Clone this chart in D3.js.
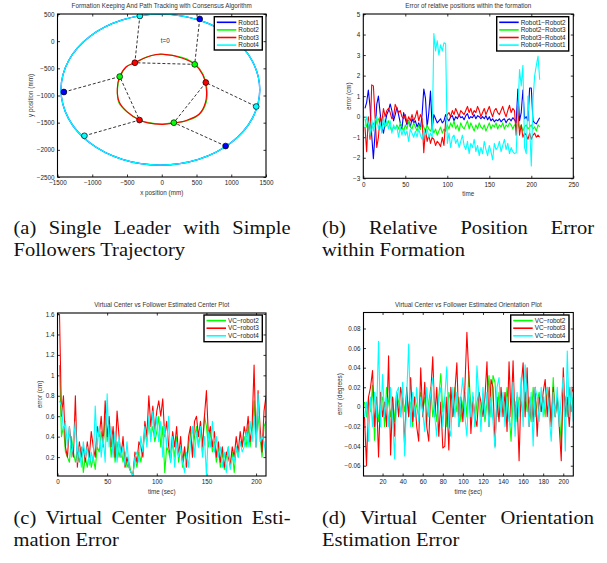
<!DOCTYPE html>
<html>
<head>
<meta charset="utf-8">
<script src="https://cdn.jsdelivr.net/npm/d3@7/dist/d3.min.js"></script>
<style>
  body { margin: 0; background: #fff; }
  svg { display: block; }
  .ax text { font-family: "Liberation Sans", Arial, sans-serif; font-size: 6.3px; fill: #222; }
  .ax .tick line { stroke: #000; stroke-width: 0.8; }
  .lbl { font-family: "Liberation Sans", Arial, sans-serif; font-size: 6.3px; fill: #333; }
  .leg text { font-family: "Liberation Sans", Arial, sans-serif; font-size: 6.4px; fill: #222; }
  .cap text { font-family: "Liberation Serif", "Times New Roman", serif; font-size: 19px; fill: #111; }
</style>
</head>
<body>
<svg id="fig" width="607" height="563"></svg>
<script>
// ---- (a) trajectories, mm ----
const outerPath = [
  [1410, -893], [1301, -361], [991, 90], [527, 391], [-20, 497], [-567, 391],
  [-1031, 90], [-1341, -361], [-1450, -893], [-1341, -1425], [-1031, -1876],
  [-567, -2177], [-20, -2283], [527, -2177], [991, -1876], [1301, -1425]
];
const innerRed = [
  [5, -240], [290, -310], [474, -427], [590, -620], [640, -851], [630, -1124],
  [540, -1340], [353, -1460], [174, -1510], [5, -1530], [-200, -1505], [-320, -1452],
  [-494, -1306], [-610, -1124], [-640, -880], [-605, -652], [-510, -470], [-387, -397],
  [-228, -300], [-82, -245]
];
const innerGreen = [
  [10, -245], [300, -300], [480, -420], [596, -615], [648, -860], [640, -1120],
  [550, -1335], [360, -1465], [170, -1500], [0, -1525], [-205, -1495], [-325, -1445],
  [-500, -1300], [-618, -1130], [-636, -870], [-600, -660], [-505, -465], [-380, -392],
  [-220, -292], [-80, -250]
];
// formation snapshots: one point per robot per snapshot
const robot1Pts = [[546, 409], [-1408, -936], [919, -1930]];
const robot2Pts = [[474, -427], [-605, -652], [174, -1500]];
const robot3Pts = [[-387, -397], [-320, -1452], [634, -761]];
const robot4Pts = [[-315, 464], [-1113, -1742], [1359, -1203]];
const robotNames = ['Robot1', 'Robot2', 'Robot3', 'Robot4'];

// ---- (b) relative position error (cm), t = 2..210 step 2 ----
const errR1R2 = [
  0.4, 0.7, 1.3, 0.5, -0.9, -2.05, -0.8, 0.6, 1.0, 0.2,
  -0.5, -0.8, -0.3, 0.1, 0.3, 0.62, 0.3, -0.2, 0.1, 0.45,
  0.1, -0.3, -0.6, 0.2, -0.1, -0.4, -0.2, -0.5, -0.1, -0.3,
  -0.2, -0.5, -0.3, -0.6, 0.1, 1.35, 0.9, -0.5, 0.2, 1.25,
  -0.6, 0.1, -0.1, -0.3, -0.2, -0.1, -0.3, -0.2, 0.1, -0.1,
  -0.2, 0.0, 0.05, -0.2, 0.0, -0.1, 0.1, -0.05, 0.0, -0.15,
  0.05, 0.15, -0.1, 0.0, -0.05, 0.1, -0.1, 0.05, 0.0, -0.1,
  0.0, -0.1, 0.05, -0.15, 0.0, -0.2, -0.1, -0.25, -0.15, -0.2,
  -0.1, -0.25, -0.15, -0.1, -0.3, -0.15, -0.1, -0.2, -0.05, -0.15,
  -0.3, 1.35, -0.2, 0.2, 1.3, -0.1, 0.0, -0.2, 1.4, 1.4,
  -0.2, -0.3, -0.35, -0.2, -0.05
];
const errR2R3 = [
  -0.1, -0.5, -0.3, -0.9, -0.6, -0.3, -0.5, -0.2, -0.1, -0.4,
  -0.6, -0.3, -0.5, -0.4, -0.2, -0.5, -0.7, -0.5, -0.6, -0.4,
  -0.6, -0.3, -0.5, -0.7, -0.4, -0.6, -0.2, -0.5, -0.6, -0.3,
  -0.5, -0.7, -0.4, -0.6, -0.3, -0.5, -0.7, -0.4, -0.6, -0.7,
  -0.5, -0.8, -0.6, -0.9, -0.7, -0.5, -0.8, -0.6, -0.7, -0.4,
  -0.6, -0.3, -0.5, -0.2, -0.6, -0.4, -0.7, -0.3, -0.5, -0.6,
  -0.4, -0.2, -0.6, -0.3, -0.5, -0.7, -0.4, -0.6, -0.3, -0.5,
  -0.6, -0.4, -0.7, -0.5, -0.3, -0.6, -0.4, -0.5, -0.3, -0.6,
  -0.4, -0.5, -0.3, -0.6, -0.4, -0.5, -0.3, -0.4, -0.6, -0.4,
  -0.5, -0.3, -0.6, -0.4, -0.7, -0.5, -0.4, -0.6, -0.5, -0.4,
  -0.6, -0.5, -0.7, -0.4, -0.5
];
const errR3R4 = [
  -0.5, -1.7, 0.0, -1.1, 1.55, 1.5, 0.0, -1.5, -1.0, 0.0,
  -0.3, 0.4, 0.0, 0.3, 0.4, 0.2, -0.1, 0.0, 0.6, 0.4,
  0.2, 0.3, 0.0, -0.1, 0.1, -0.3, 0.0, -0.2, 0.1, -0.2,
  0.0, 0.3, -0.2, 0.1, -0.1, -1.75, -0.6, -1.2, -0.9, -1.3,
  -1.0, -1.1, -1.4, -1.2, -1.3, -1.45, -1.0, -1.4, -0.2, 0.1,
  0.2, 0.0, 0.3, 0.1, 0.4, 0.2, 0.0, 0.3, 0.2, 0.1,
  0.3, 0.5, 0.2, 0.4, 0.1, 0.3, 0.2, 0.5, 0.3, 0.0,
  0.2, 0.4, 0.1, 0.3, 0.5, 0.2, 0.0, 0.3, 0.4, 0.2,
  0.1, 0.3, 0.5, 0.2, 0.0, 0.3, 0.55, 0.2, 0.4, 0.3,
  -0.9, 0.5, -0.9, -0.4, -1.0, -0.8, -0.9, -1.1, -0.8, -1.1,
  -0.9, -0.8, -1.0, -0.9, -1.0
];
const errR4R1 = [
  -0.5, 0.0, -0.3, -0.9, -0.1, -0.7, -0.2, 0.0, -0.6, -0.3,
  -0.8, 0.0, -0.5, -0.2, -0.6, -0.2, -0.8, -0.4, -0.6, -0.5,
  -1.0, -0.5, -0.9, -0.6, -0.9, -0.7, -1.2, -0.6, -0.8, -1.0,
  -0.7, -1.0, -0.6, -0.9, -1.1, -0.7, -0.9, -0.6, -1.0, -0.8,
  -1.0, 4.05, 3.2, 3.7, 3.0, 3.5, 3.2, 3.6, 3.55, -1.3,
  -0.8, -1.5, -1.0, -0.9, -1.3, -1.1, -1.5, -1.2, -0.9, -1.4,
  -1.6, -1.2, -1.8, -1.3, -1.5, -1.1, -1.7, -1.4, -1.9, -1.5,
  -1.8, -1.2, -1.6, -1.9, -1.4, -1.7, -2.1, -1.3, -1.6, -1.5,
  -1.2, -1.7, -1.4, -1.1, -1.6, -1.3, -1.8, -1.5, -1.7, -1.8,
  -1.75, 0.2, 2.3, 1.5, 2.5, -1.5, -1.8, 1.0, -0.5, -2.4,
  0.8, 2.0, 2.5, 2.95, 1.8
];
const pairNames = ['Robot1\u2212Robot2', 'Robot2\u2212Robot3', 'Robot3\u2212Robot4', 'Robot4\u2212Robot1'];

// ---- (c) center estimation error (cm), t = 2..210 step 2 ----
const centerR2 = [
  1.1, 0.4, 0.5, 0.25, 0.2, 0.15, 0.4, 0.25, 0.15, 0.25,
  0.15, 0.3, 0.05, 0.2, 0.1, 0.25, 0.1, 0.2, 0.08, 0.3,
  0.25, 0.45, 0.3, 0.6, 0.35, 0.5, 0.2, 0.4, 0.15, 0.35,
  0.2, 0.3, 0.15, 0.25, 0.1, 0.15, 0.05, 0.03, 0.2, 0.1,
  0.25, 0.15, 0.3, 0.45, 0.35, 0.55, 0.4, 0.5, 0.35, 0.45,
  0.6, 0.3, 0.5, 0.05, 0.3, 0.25, 0.15, 0.35, 0.2, 0.4,
  0.15, 0.3, 0.1, 0.25, 0.15, 0.3, 0.45, 0.2, 0.4, 0.5,
  0.3, 0.45, 0.25, 0.6, 0.5, 0.3, 0.45, 0.25, 0.35, 0.15,
  0.3, 0.1, 0.25, 0.08, 0.2, 0.3, 0.1, 0.25, 0.05, 0.3,
  0.2, 0.35, 0.3, 0.4, 0.3, 0.5, 0.3, 0.45, 0.75, 0.35,
  0.6, 0.4, 0.2, 0.5, 0.55
];
const centerR3 = [
  1.6, 0.6, 0.8, 0.3, 0.2, 0.5, 0.3, 0.2, 0.8, 0.1,
  0.35, 0.2, 0.3, 0.15, 0.35, 0.2, 0.45, 0.3, 0.2, 0.5,
  0.4, 0.6, 0.3, 0.75, 0.4, 0.6, 0.3, 0.5, 0.2, 0.65,
  0.4, 0.2, 0.4, 0.1, 0.2, 0.1, 0.05, 0.02, 0.25, 0.15,
  0.35, 0.3, 0.2, 0.55, 0.4, 0.8, 0.5, 0.7, 0.45, 0.65,
  0.75, 0.6, 0.77, 0.4, 0.55, 0.3, 0.2, 0.45, 0.3, 0.5,
  0.2, 0.4, 0.15, 0.3, 0.1, 0.4, 0.5, 0.2, 0.55, 0.6,
  0.4, 0.55, 0.3, 0.6, 0.85, 0.4, 0.5, 0.3, 0.45, 0.2,
  0.35, 0.15, 0.3, 0.1, 0.25, 0.2, 0.12, 0.3, 0.2, 0.4,
  0.25, 0.45, 0.3, 0.5, 0.4, 0.6, 0.35, 0.5, 1.1, 0.3,
  0.85, 0.5, 0.25, 0.65, 0.8
];
const centerR4 = [
  0.75, 0.7, 0.45, 0.55, 0.3, 0.5, 0.2, 0.35, 0.55, 0.15,
  0.3, 0.1, 0.35, 0.2, 0.3, 0.12, 0.25, 0.15, 0.7, 0.3,
  0.5, 0.2, 0.4, 0.15, 0.82, 0.3, 0.5, 0.2, 0.45, 0.15,
  0.4, 0.2, 0.3, 0.12, 0.35, 0.1, 0.05, 0.02, 0.2, 0.25,
  0.15, 0.4, 0.25, 0.5, 0.3, 0.6, 0.35, 0.65, 0.4, 0.6,
  0.35, 0.55, 0.2, 0.5, 0.3, 0.6, 0.15, 0.4, 0.1, 0.35,
  0.2, 0.3, 0.15, 0.05, 0.25, 0.1, 0.35, 0.5, 0.2, 0.45,
  0.3, 0.5, 0.2, 0.4, 0.02, 0.45, 0.3, 0.55, 0.25, 0.4,
  0.2, 0.3, 0.1, 0.25, 0.05, 0.3, 0.08, 0.2, 0.15, 0.3,
  0.2, 0.35, 0.25, 0.3, 0.45, 0.3, 0.55, 0.35, 0.6, 0.3,
  0.82, 0.35, 0.4, 0.35, 0.2
];

// ---- (d) orientation estimation error (degrees), t = 2..210 step 2 ----
const orientR2 = [
  0.005, -0.01, 0.01, -0.005, 0.022, -0.034, 0.01, -0.015, 0.005, 0.01,
  -0.02, 0.02, 0.005, -0.01, 0.01, -0.015, 0.015, 0.005, -0.01, 0.01,
  -0.005, 0.015, -0.01, 0.005, -0.02, 0.01, 0.0, -0.01, 0.015, -0.005,
  0.01, -0.015, 0.005, 0.02, -0.01, 0.005, -0.015, 0.01, 0.034, -0.005,
  0.01, -0.02, 0.015, 0.005, -0.01, 0.02, -0.005, 0.01, -0.015, 0.005,
  0.015, -0.01, 0.036, -0.005, 0.01, -0.02, 0.005, 0.015, -0.01, 0.01,
  -0.015, 0.005, 0.032, -0.01, 0.032, 0.025, -0.01, 0.015, -0.005, 0.01,
  -0.01, 0.02, -0.005, -0.035, 0.01, 0.005, -0.015, 0.01, 0.005, -0.01,
  0.015, -0.005, 0.01, -0.015, 0.02, -0.01, 0.005, 0.015, -0.005, 0.01,
  -0.01, 0.02, 0.005, -0.015, 0.03, -0.01, 0.01, -0.005, -0.038, 0.015,
  0.01, -0.01, 0.02, -0.005, 0.01
];
const orientR3 = [
  -0.01, -0.06, 0.01, 0.02, 0.037, -0.02, 0.01, -0.051, 0.015, -0.01,
  0.005, -0.02, 0.052, -0.049, 0.01, -0.03, 0.015, -0.01, 0.02, 0.008,
  -0.04, 0.02, -0.01, 0.03, -0.015, 0.01, -0.02, -0.035, 0.04, -0.01,
  0.025, -0.02, -0.035, 0.015, 0.051, -0.01, 0.02, -0.03, 0.005, -0.042,
  -0.04, 0.01, -0.044, 0.02, -0.01, 0.015, 0.045, -0.02, 0.01, -0.015,
  0.02, 0.076, 0.03, -0.027, 0.01, -0.01, -0.02, 0.015, 0.005, -0.01,
  0.01, 0.046, -0.02, 0.028, 0.02, -0.04, 0.01, -0.015, 0.02, -0.01,
  0.015, -0.025, 0.046, -0.01, 0.047, -0.02, 0.01, -0.055, 0.02, 0.045,
  -0.01, 0.04, -0.02, 0.01, -0.015, 0.02, -0.03, 0.01, -0.005, 0.015,
  0.028, -0.01, 0.02, -0.02, 0.02, -0.01, 0.01, -0.02, -0.055, 0.04,
  -0.01, 0.01, -0.02, 0.02, 0.015
];
const orientR4 = [
  -0.01, 0.005, -0.035, 0.01, -0.02, 0.015, -0.01, 0.067, -0.02, 0.033,
  -0.01, 0.01, -0.02, 0.02, -0.01, -0.053, 0.015, 0.02, -0.01, 0.025,
  -0.05, 0.01, 0.064, -0.02, 0.015, -0.01, 0.02, -0.015, 0.01, -0.005,
  -0.025, 0.02, -0.01, 0.015, 0.03, -0.01, -0.03, 0.01, 0.02, -0.02,
  0.01, 0.041, -0.02, -0.03, 0.02, -0.01, 0.015, -0.02, 0.01, 0.03,
  -0.01, -0.03, 0.02, -0.01, 0.015, -0.02, 0.042, 0.01, -0.025, 0.02,
  -0.01, 0.015, -0.02, 0.01, -0.015, -0.042, 0.02, 0.03, -0.01, 0.015,
  -0.02, 0.01, -0.015, -0.02, 0.025, -0.03, 0.015, -0.01, 0.03, -0.02,
  0.043, 0.01, -0.02, 0.015, -0.04, 0.02, 0.01, -0.015, 0.02, -0.01,
  0.01, 0.02, -0.01, -0.035, 0.015, -0.01, 0.02, -0.02, 0.01, 0.03,
  -0.045, 0.057, -0.01, 0.02, -0.015
];
const vcNames = ['VC\u2212robot2', 'VC\u2212robot3', 'VC\u2212robot4'];

// sample times shared by (b), (c), (d)
const sampleT = d3.range(2, 211, 2);

// tick values
const ticksAx = [-1500, -1000, -500, 0, 500, 1000, 1500];
const ticksAy = [-2500, -2000, -1500, -1000, -500, 0, 500];
const ticksBx = [0, 50, 100, 150, 200, 250];
const ticksBy = [-3, -2, -1, 0, 1, 2, 3, 4, 5];
const ticksCx = [0, 50, 100, 150, 200];
const ticksCy = [0.2, 0.4, 0.6, 0.8, 1, 1.2, 1.4, 1.6];
const ticksDx = [20, 40, 60, 80, 100, 120, 140, 160, 180, 200];
const ticksDy = [-0.06, -0.04, -0.02, 0, 0.02, 0.04, 0.06, 0.08];

const BLUE = '#0000ff', GREEN = '#00ff00', RED = '#ff0000', CYAN = '#00ffff';

const svg = d3.select('#fig');
svg.append('rect').attr('width', 607).attr('height', 563).attr('fill', '#fff');

function fmt(d) {
  return String(Math.round(d * 1000) / 1000).replace('-', '\u2212');
}

function drawPanel(p) {
  const [x0, y0, x1, y1] = p.box;
  const x = d3.scaleLinear().domain(p.xDomain).range([x0, x1]);
  const y = d3.scaleLinear().domain(p.yDomain).range([y1, y0]);

  svg.append('clipPath').attr('id', 'clip-' + p.id)
    .append('rect').attr('x', x0).attr('y', y0).attr('width', x1 - x0).attr('height', y1 - y0);

  const g = svg.append('g').attr('class', 'ax');
  g.append('g').attr('transform', `translate(0,${y1})`)
    .call(d3.axisBottom(x).tickValues(p.xTicks).tickSize(-2.5).tickPadding(4).tickFormat(fmt));
  g.append('g').attr('transform', `translate(0,${y0})`)
    .call(d3.axisTop(x).tickValues(p.xTicks).tickSize(-2.5).tickFormat(''));
  g.append('g').attr('transform', `translate(${x0},0)`)
    .call(d3.axisLeft(y).tickValues(p.yTicks).tickSize(-2.5).tickPadding(3).tickFormat(fmt));
  g.append('g').attr('transform', `translate(${x1},0)`)
    .call(d3.axisRight(y).tickValues(p.yTicks).tickSize(-2.5).tickFormat(''));
  g.selectAll('.domain').remove();

  // labels
  svg.append('text').attr('class', 'lbl')
    .attr('x', (x0 + x1) / 2).attr('y', y0 - 6).attr('text-anchor', 'middle')
    .text(p.title);
  svg.append('text').attr('class', 'lbl')
    .attr('x', (x0 + x1) / 2).attr('y', y1 + 17.5).attr('text-anchor', 'middle')
    .text(p.xLabel);
  svg.append('text').attr('class', 'lbl')
    .attr('transform', `translate(${p.yLabelX},${(y0 + y1) / 2}) rotate(-90)`)
    .attr('text-anchor', 'middle')
    .text(p.yLabel);

  const plot = svg.append('g').attr('clip-path', `url(#clip-${p.id})`);
  return { x, y, plot, box: p.box };
}

function frame(P) {
  const [x0, y0, x1, y1] = P.box;
  svg.append('rect').attr('x', x0).attr('y', y0).attr('width', x1 - x0).attr('height', y1 - y0)
    .attr('fill', 'none').attr('stroke', '#000').attr('stroke-width', 1.1);
}

function legend(bx, by, bw, bh, names, colors) {
  const g = svg.append('g').attr('class', 'leg');
  g.append('rect').attr('x', bx).attr('y', by).attr('width', bw).attr('height', bh)
    .attr('fill', '#fff').attr('stroke', '#000').attr('stroke-width', 1.4);
  names.forEach((n, i) => {
    const yy = by + 5.6 + i * 7.6;
    g.append('line').attr('x1', bx + 2.5).attr('x2', bx + 22).attr('y1', yy).attr('y2', yy)
      .attr('stroke', colors[i]).attr('stroke-width', 1.6);
    g.append('text').attr('x', bx + 24).attr('y', yy).attr('dy', '0.35em').text(n);
  });
}

function series(P, values, color) {
  const line = d3.line().x((d, i) => P.x(sampleT[i])).y(d => P.y(d));
  P.plot.append('path').attr('d', line(values))
    .attr('fill', 'none').attr('stroke', color).attr('stroke-width', 1.1)
    .attr('stroke-linejoin', 'round');
}

// ===== (a) =====
const A = drawPanel({
  id: 'a', box: [57.5, 14, 266, 177],
  xDomain: [-1500, 1500], yDomain: [-2500, 500], xTicks: ticksAx, yTicks: ticksAy,
  title: 'Formation Keeping And Path Tracking with Consensus Algorithm',
  xLabel: 'x position (mm)', yLabel: 'y position (mm)', yLabelX: 33
});
const closedCurve = d3.line().x(d => A.x(d[0])).y(d => A.y(d[1])).curve(d3.curveCatmullRomClosed.alpha(0.5));
A.plot.append('path').attr('d', closedCurve(outerPath)).attr('fill', 'none').attr('stroke', BLUE).attr('stroke-width', 1.3);
A.plot.append('path').attr('d', closedCurve(outerPath)).attr('fill', 'none').attr('stroke', CYAN).attr('stroke-width', 1.3);
A.plot.append('path').attr('d', closedCurve(innerGreen)).attr('fill', 'none').attr('stroke', GREEN).attr('stroke-width', 1.2);
A.plot.append('path').attr('d', closedCurve(innerRed)).attr('fill', 'none').attr('stroke', RED).attr('stroke-width', 1.2);

const straight = d3.line().x(d => A.x(d[0])).y(d => A.y(d[1]));
robot1Pts.forEach((p, i) => {
  A.plot.append('path').attr('d', straight([p, robot2Pts[i], robot3Pts[i], robot4Pts[i]]))
    .attr('fill', 'none').attr('stroke', '#000').attr('stroke-width', 0.8)
    .attr('stroke-dasharray', '3,2');
});
[[robot1Pts, BLUE], [robot2Pts, GREEN], [robot3Pts, RED], [robot4Pts, CYAN]].forEach(([pts, c]) => {
  A.plot.selectAll(null).data(pts).enter().append('circle')
    .attr('cx', d => A.x(d[0])).attr('cy', d => A.y(d[1])).attr('r', 2.9)
    .attr('fill', c).attr('stroke', '#000').attr('stroke-width', 0.7);
});
A.plot.append('text').attr('class', 'lbl').attr('x', A.x(50)).attr('y', A.y(0)).attr('dy', '0.35em')
  .attr('text-anchor', 'middle').attr('fill', '#555').text('t=0');
frame(A);
legend(214.3, 16.7, 48, 33.3, robotNames, [BLUE, GREEN, RED, CYAN]);

// ===== (b) =====
const B = drawPanel({
  id: 'b', box: [363.3, 14, 573.3, 178.3],
  xDomain: [0, 250], yDomain: [-3, 5], xTicks: ticksBx, yTicks: ticksBy,
  title: 'Error of relative positions within the formation',
  xLabel: 'time', yLabel: 'error (cm)', yLabelX: 350.5
});
series(B, errR1R2, BLUE);
series(B, errR2R3, GREEN);
series(B, errR3R4, RED);
series(B, errR4R1, CYAN);
frame(B);
legend(496.7, 16.7, 72, 34.3, pairNames, [BLUE, GREEN, RED, CYAN]);

// ===== (c) =====
const C = drawPanel({
  id: 'c', box: [57.5, 313, 266, 476],
  xDomain: [0, 210], yDomain: [0.015, 1.61], xTicks: ticksCx, yTicks: ticksCy,
  title: 'Virtual Center vs Follower Estimated Center Plot',
  xLabel: 'time (sec)', yLabel: 'error (cm)', yLabelX: 42
});
series(C, centerR2, GREEN);
series(C, centerR3, RED);
series(C, centerR4, CYAN);
frame(C);
legend(204, 315, 58.3, 26.7, vcNames, [GREEN, RED, CYAN]);

// ===== (d) =====
const D = drawPanel({
  id: 'd', box: [363.5, 312.5, 573.3, 476],
  xDomain: [1, 210], yDomain: [-0.0705, 0.0963], xTicks: ticksDx, yTicks: ticksDy,
  title: 'Virtual Center vs Follower Estimated Orientation Plot',
  xLabel: 'time (sec)', yLabel: 'error (degrees)', yLabelX: 341.5
});
series(D, orientR2, GREEN);
series(D, orientR3, RED);
series(D, orientR4, CYAN);
frame(D);
legend(510.7, 315, 58.3, 26.7, vcNames, [GREEN, RED, CYAN]);

// ===== captions (justified, Times-like) =====
function caption(x, yBase, width, lines) {
  const sc = 1.08;
  const g = svg.append('g').attr('class', 'cap').attr('transform', `translate(${x},0) scale(${sc},1)`);
  lines.forEach((ln, i) => {
    const yy = yBase + i * 22;
    if (!ln.justify) {
      g.append('text').attr('x', 0).attr('y', yy).text(ln.text);
      return;
    }
    const words = ln.text.split(' ');
    const nodes = words.map(w => g.append('text').attr('y', yy).text(w));
    const widths = nodes.map(n => n.node().getComputedTextLength());
    const gap = (width / sc - d3.sum(widths)) / (words.length - 1);
    let cx = 0;
    nodes.forEach((n, j) => { n.attr('x', cx); cx += widths[j] + gap; });
  });
}
caption(13.5, 234, 277, [
  { text: '(a) Single Leader with Simple', justify: true },
  { text: 'Followers Trajectory', justify: false }
]);
caption(322, 234, 272, [
  { text: '(b) Relative Position Error', justify: true },
  { text: 'within Formation', justify: false }
]);
caption(13.5, 524.5, 277, [
  { text: '(c) Virtual Center Position Esti-', justify: true },
  { text: 'mation Error', justify: false }
]);
caption(322, 524.5, 272, [
  { text: '(d) Virtual Center Orientation', justify: true },
  { text: 'Estimation Error', justify: false }
]);
</script>
</body>
</html>
